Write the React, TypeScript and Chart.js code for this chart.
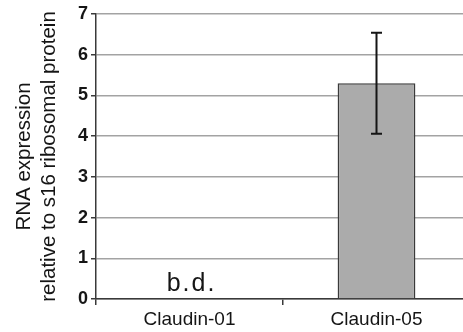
import React, { useEffect, useRef } from "react";
import { Chart, registerables } from "chart.js";

Chart.register(...registerables);

const categories = ["Claudin-01", "Claudin-05"];
const values: (number | null)[] = [null, 5.3];
const errLow: (number | null)[] = [null, 4.06];
const errHigh: (number | null)[] = [null, 6.54];
const annotations: (string | null)[] = ["b.d.", null];
const yTicks = [0, 1, 2, 3, 4, 5, 6, 7];
const yTitle = ["RNA expression", "relative to s16 ribosomal protein"];

const FONT = "'Liberation Sans', Arial, sans-serif";

const errorBarPlugin = {
  id: "errorBars",
  afterDatasetsDraw(chart: any) {
    const ctx = chart.ctx;
    const meta = chart.getDatasetMeta(0);
    const y = chart.scales.y;
    const x = chart.scales.x;
    ctx.save();
    meta.data.forEach((bar: any, i: number) => {
      const lo = errLow[i];
      const hi = errHigh[i];
      if (lo == null || hi == null) return;
      const cx = x.getPixelForValue(i);
      const yl = y.getPixelForValue(lo);
      const yh = y.getPixelForValue(hi);
      ctx.strokeStyle = "#151515";
      ctx.lineWidth = 2;
      ctx.beginPath();
      ctx.moveTo(cx, yl);
      ctx.lineTo(cx, yh);
      ctx.moveTo(cx - 5.5, yl);
      ctx.lineTo(cx + 5.5, yl);
      ctx.moveTo(cx - 5.5, yh);
      ctx.lineTo(cx + 5.5, yh);
      ctx.stroke();
    });
    annotations.forEach((txt, i) => {
      if (!txt) return;
      const cx = x.getPixelForValue(i);
      const yy = y.getPixelForValue(0.2);
      ctx.fillStyle = "#151515";
      ctx.font = `25px ${FONT}`;
      ctx.textAlign = "center";
      ctx.textBaseline = "alphabetic";
      (ctx as any).letterSpacing = "2px";
      ctx.fillText(txt, cx + 2, yy);
    });
    ctx.restore();
  },
};

export default function App() {
  const ref = useRef<HTMLCanvasElement | null>(null);
  useEffect(() => {
    if (!ref.current) return;
    const chart = new Chart(ref.current, {
      type: "bar",
      data: {
        labels: categories,
        datasets: [
          {
            data: values as any,
            backgroundColor: "#ababab",
            borderColor: "#3a3a3a",
            borderWidth: 1.5,
            categoryPercentage: 1,
            barPercentage: 0.416,
          },
        ],
      },
      options: {
        responsive: false,
        animation: false,
        layout: { padding: { top: 14, right: 10, left: 0, bottom: 0 } },
        plugins: { legend: { display: false }, tooltip: { enabled: false } },
        scales: {
          x: {
            grid: {
              display: true,
              drawOnChartArea: false,
              offset: true,
              tickLength: 6,
              color: "#3a3a3a",
              lineWidth: 1.5,
            },
            border: { color: "#3a3a3a", width: 1.5 },
            ticks: {
              color: "#151515",
              font: { family: FONT, size: 19 },
              padding: 3,
            },
            afterFit(scale: any) {
              scale.height = 33;
            },
          },
          y: {
            min: 0,
            max: 7,
            afterBuildTicks(scale: any) {
              scale.ticks = yTicks.map((v) => ({ value: v }));
            },
            grid: {
              color: "#a3a3a3",
              lineWidth: 1.5,
              tickLength: 5,
              tickColor: "#3a3a3a",
            },
            border: { color: "#3a3a3a", width: 1.5 },
            ticks: {
              color: "#151515",
              font: { family: FONT, size: 18, weight: "bold" },
              padding: 3,
            },
            title: {
              display: true,
              text: yTitle,
              color: "#151515",
              font: { family: FONT, size: 20.5, lineHeight: 1.22 },
              padding: { top: 12, bottom: 0 },
            },
            afterFit(scale: any) {
              scale.width = 96;
            },
          },
        },
      },
      plugins: [errorBarPlugin],
    });
    return () => chart.destroy();
  }, []);
  return (
    <div
      style={{
        position: "fixed",
        left: 0,
        top: 0,
        width: 463,
        height: 332,
        overflow: "hidden",
        background: "#fff",
      }}
    >
      <canvas ref={ref} width={480} height={332} style={{ width: 480, height: 332, display: "block" }} />
    </div>
  );
}
